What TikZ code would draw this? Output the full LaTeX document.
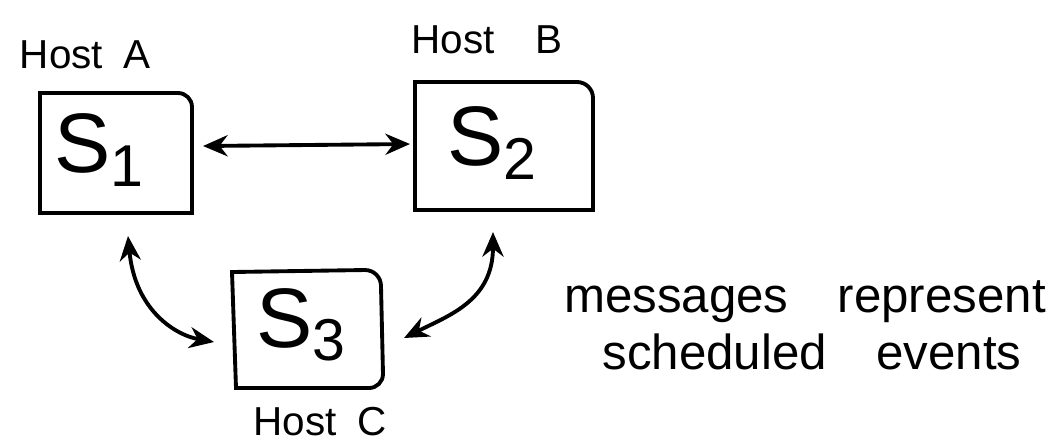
\documentclass[tikz,border=0pt]{standalone}
\usepackage{fontspec}
\setmainfont{Liberation Sans}
\usetikzlibrary{arrows.meta}
\begin{document}
\begin{tikzpicture}[x=0.01cm,y=-0.01cm,
  hostbox/.style={draw,line width=1.1pt},
  lbl/.style={font=\fontsize{11.5}{13}\selectfont,inner sep=1pt},
  note/.style={font=\fontsize{14}{17}\selectfont},
  sym/.style={font=\fontsize{24}{28}\selectfont},
  conn/.style={line width=1.1pt,{Stealth[length=7pt,width=6pt]}-{Stealth[length=7pt,width=6pt]}}]
\useasboundingbox (0,0) rectangle (1060,447);
% boxes
\draw[hostbox] (40,93) -- (178,93) to[out=0,in=90] (192,107) -- (192,213) -- (40,213) -- cycle;
\draw[hostbox] (415,82) -- (577,82) to[out=0,in=90] (593,98) -- (593,210) -- (415,210) -- cycle;
\draw[hostbox] (232,272) -- (365,270) to[out=0,in=90] (381,286) -- (383,374) to[out=-90,in=0] (369,388) -- (236,388) -- cycle;
\node[sym] (s1) at (100,150) {S\textsubscript{1}};
\node[sym] (s2) at (493,143) {S\textsubscript{2}};
\node[sym] (s3) at (302,325) {S\textsubscript{3}};
% labels
\node[lbl] (ha) at (85,55) {Host\enspace A};
\node[lbl] (hb) at (487,40) {Host\quad B};
\node[lbl] (hc) at (320,422) {Host\enspace C};
\node[note] (n1) at (805,302) {messages\quad represent};
\node[note] (n2) at (812,352) {scheduled\quad events};
% connectors
\coordinate (a1) at (203,146);
\coordinate (a2) at (410,144);
\draw[conn] (a1) -- (a2);
\coordinate (b1) at (128,236);
\coordinate (b2) at (214,342);
\draw[conn] (b1) .. controls (135,310) and (175,335) .. (b2);
\coordinate (c1) at (493,232);
\coordinate (c2) at (404,338);
\draw[conn] (c1) .. controls (493,300) and (450,315) .. (c2);
\end{tikzpicture}
\end{document}
